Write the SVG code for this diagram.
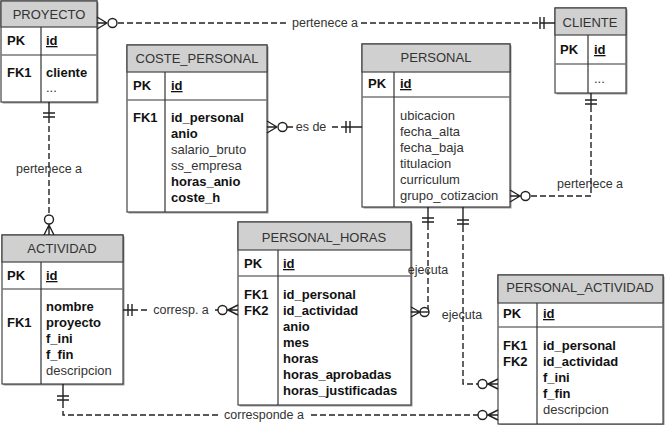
<svg xmlns="http://www.w3.org/2000/svg" width="665" height="425" viewBox="0 0 665 425">
<style>
text{font-family:"Liberation Sans",Arial,sans-serif;font-size:13px;fill:#222}
.h{text-anchor:middle;fill:#333}
.b{font-weight:bold;fill:#111}
.r{fill:#333}
.u{font-weight:bold;text-decoration:underline;fill:#111}
.box{fill:#fff;stroke:#444;stroke-width:1.2}
.sh{fill:#999}
.hd{fill:#d0d0d0;stroke:#444;stroke-width:1.2}
.sep{stroke:#777;stroke-width:1.6}
.div{stroke:#333;stroke-width:1.2}
.c{fill:none;stroke:#222;stroke-width:1.4}
.d{fill:none;stroke:#222;stroke-width:1.4;stroke-dasharray:6 3}
.o{fill:#fff;stroke:#222;stroke-width:1.4}
.lbl{font-size:12.5px;fill:#333;text-anchor:middle}
.bg{fill:#fff}
</style>

<g id="PROYECTO">
  <rect class="sh" x="2.5" y="2.5" width="96" height="101"/>
  <rect class="box" x="1" y="1" width="96" height="101"/>
  <rect class="hd" x="1" y="1" width="96" height="26"/>
  <line class="sep" x1="1" y1="55" x2="97" y2="55"/>
  <line class="div" x1="41" y1="27" x2="41" y2="102"/>
  <text class="h" x="49" y="19">PROYECTO</text>
  <text class="b" x="7" y="45">PK</text>
  <text class="u" x="46" y="45">id</text>
  <text class="b" x="7" y="77">FK1</text>
  <text class="b" x="46" y="77">cliente</text>
  <text class="r" x="46" y="92">...</text>
</g>

<g id="CLIENTE">
  <rect class="sh" x="556.5" y="9.5" width="71" height="85"/>
  <rect class="box" x="555" y="8" width="71" height="85"/>
  <rect class="hd" x="555" y="8" width="71" height="27"/>
  <line class="sep" x1="555" y1="64" x2="626" y2="64"/>
  <line class="div" x1="588" y1="35" x2="588" y2="93"/>
  <text class="h" x="590" y="27">CLIENTE</text>
  <text class="b" x="560" y="54">PK</text>
  <text class="u" x="594" y="54">id</text>
  <text class="r" x="594" y="83">...</text>
</g>

<g id="COSTE_PERSONAL">
  <rect class="sh" x="128.5" y="46.5" width="140" height="167"/>
  <rect class="box" x="127" y="45" width="140" height="167"/>
  <rect class="hd" x="127" y="45" width="140" height="27"/>
  <line class="sep" x1="127" y1="100" x2="267" y2="100"/>
  <line class="div" x1="165" y1="72" x2="165" y2="212"/>
  <text class="h" x="197" y="63">COSTE_PERSONAL</text>
  <text class="b" x="133" y="90">PK</text>
  <text class="u" x="171" y="90">id</text>
  <text class="b" x="133" y="122">FK1</text>
  <text class="b" x="171" y="122">id_personal</text>
  <text class="b" x="171" y="138">anio</text>
  <text class="r" x="171" y="154">salario_bruto</text>
  <text class="r" x="171" y="170">ss_empresa</text>
  <text class="b" x="171" y="186">horas_anio</text>
  <text class="b" x="171" y="202">coste_h</text>
</g>

<g id="PERSONAL">
  <rect class="sh" x="363.5" y="45.5" width="148" height="163"/>
  <rect class="box" x="362" y="44" width="148" height="163"/>
  <rect class="hd" x="362" y="44" width="148" height="28"/>
  <line class="sep" x1="362" y1="97" x2="510" y2="97"/>
  <line class="div" x1="394" y1="72" x2="394" y2="207"/>
  <text class="h" x="436" y="62">PERSONAL</text>
  <text class="b" x="368" y="88">PK</text>
  <text class="u" x="400" y="88">id</text>
  <text class="r" x="400" y="120">ubicacion</text>
  <text class="r" x="400" y="136">fecha_alta</text>
  <text class="r" x="400" y="152">fecha_baja</text>
  <text class="r" x="400" y="168">titulacion</text>
  <text class="r" x="400" y="184">curriculum</text>
  <text class="r" x="400" y="200">grupo_cotizacion</text>
</g>

<g id="ACTIVIDAD">
  <rect class="sh" x="3.5" y="236.5" width="121" height="149"/>
  <rect class="box" x="2" y="235" width="121" height="149"/>
  <rect class="hd" x="2" y="235" width="121" height="27"/>
  <line class="sep" x1="2" y1="289" x2="123" y2="289"/>
  <line class="div" x1="41" y1="262" x2="41" y2="384"/>
  <text class="h" x="62" y="253">ACTIVIDAD</text>
  <text class="b" x="7" y="280">PK</text>
  <text class="u" x="46" y="280">id</text>
  <text class="b" x="7" y="327">FK1</text>
  <text class="b" x="46" y="311">nombre</text>
  <text class="b" x="46" y="327">proyecto</text>
  <text class="b" x="46" y="343">f_ini</text>
  <text class="b" x="46" y="359">f_fin</text>
  <text class="r" x="46" y="375">descripcion</text>
</g>

<g id="PERSONAL_HORAS">
  <rect class="sh" x="239.5" y="223.5" width="173" height="183"/>
  <rect class="box" x="238" y="222" width="173" height="183"/>
  <rect class="hd" x="238" y="222" width="173" height="28"/>
  <line class="sep" x1="238" y1="276" x2="411" y2="276"/>
  <line class="div" x1="278" y1="250" x2="278" y2="405"/>
  <text class="h" x="324" y="242">PERSONAL_HORAS</text>
  <text class="b" x="244" y="268">PK</text>
  <text class="u" x="283" y="268">id</text>
  <text class="b" x="244" y="299">FK1</text>
  <text class="b" x="244" y="315">FK2</text>
  <text class="b" x="283" y="299">id_personal</text>
  <text class="b" x="283" y="315">id_actividad</text>
  <text class="b" x="283" y="331">anio</text>
  <text class="b" x="283" y="347">mes</text>
  <text class="b" x="283" y="363">horas</text>
  <text class="b" x="283" y="379">horas_aprobadas</text>
  <text class="b" x="283" y="395">horas_justificadas</text>
</g>

<g id="PERSONAL_ACTIVIDAD">
  <rect class="sh" x="499.5" y="276.5" width="165" height="149"/>
  <rect class="box" x="498" y="275" width="165" height="149"/>
  <rect class="hd" x="498" y="275" width="165" height="28"/>
  <line class="sep" x1="498" y1="327" x2="663" y2="327"/>
  <line class="div" x1="537" y1="303" x2="537" y2="424"/>
  <text class="h" x="580" y="292">PERSONAL_ACTIVIDAD</text>
  <text class="b" x="503" y="318">PK</text>
  <text class="u" x="543" y="318">id</text>
  <text class="b" x="503" y="350">FK1</text>
  <text class="b" x="503" y="366">FK2</text>
  <text class="b" x="543" y="350">id_personal</text>
  <text class="b" x="543" y="366">id_actividad</text>
  <text class="b" x="543" y="382">f_ini</text>
  <text class="b" x="543" y="398">f_fin</text>
  <text class="r" x="543" y="414">descripcion</text>
</g>

<g id="connectors">
  <g id="c1">
    <path class="d" d="M118,23 H540"/>
    <path class="c" d="M540,23 H555 M540,17 V29 M544,17 V29"/>
    <path class="c" d="M97,17 L107,23 M97,23 H107 M97,29 L107,23"/>
    <circle class="o" cx="112.5" cy="23" r="4.5"/>
    <rect class="bg" x="289" y="14" width="72" height="16"/>
    <text class="lbl" x="325" y="27">pertenece a</text>
  </g>
  <g id="c2">
    <path class="d" d="M287,127 H346"/>
    <path class="c" d="M346,127 H362 M346,121 V133 M350,121 V133"/>
    <path class="c" d="M267,121 L277,127 M267,127 H277 M267,133 L277,127"/>
    <circle class="o" cx="282.5" cy="127" r="4.5"/>
    <rect class="bg" x="293" y="119" width="36" height="16"/>
    <text class="lbl" x="311" y="131">es de</text>
  </g>
  <g id="c3">
    <path class="c" d="M49,102 V117 M43,113 H55 M43,117 H55"/>
    <path class="d" d="M49,117 V214"/>
    <circle class="o" cx="49" cy="219.5" r="4.5"/>
    <path class="c" d="M49,224 V235 M49,225 L44,235 M49,225 L54,235"/>
    <text class="lbl" x="49" y="173">pertenece a</text>
  </g>
  <g id="c4">
    <path class="c" d="M123,310 H132 M128,304 V316 M132,304 V316"/>
    <path class="d" d="M132,310 H218"/>
    <circle class="o" cx="222.5" cy="310" r="4.5"/>
    <path class="c" d="M227,310 H238 M228,310 L238,305 M228,310 L238,315"/>
    <rect class="bg" x="147" y="302" width="68" height="16"/>
    <text class="lbl" x="181" y="314">corresp. a</text>
  </g>
  <g id="c5">
    <path class="c" d="M428,207 V224 M422,218 H434 M422,222 H434"/>
    <path class="d" d="M428,224 V312 H429"/>
    <path class="c" d="M411,307 L420,312 M411,317 L420,312 M411,312 H429"/>
    <circle class="o" cx="424.5" cy="312" r="4.5"/>
    <path class="c" d="M420,312 H429"/>
    <text class="lbl" x="428" y="274">ejecuta</text>
  </g>
  <g id="c6">
    <path class="c" d="M463,207 V226 M457,220 H469 M457,224 H469"/>
    <path class="d" d="M463,226 V384 H478"/>
    <circle class="o" cx="482.5" cy="384" r="4.5"/>
    <path class="c" d="M487,384 H498 M488,384 L498,379 M488,384 L498,389"/>
    <text class="lbl" x="462" y="319">ejecuta</text>
  </g>
  <g id="c7">
    <path class="c" d="M591,93 V106 M585,100 H597 M585,104 H597"/>
    <path class="d" d="M591,106 V196 H530"/>
    <circle class="o" cx="525.5" cy="196" r="4.5"/>
    <path class="c" d="M510,190 L520,196 M510,196 H521 M510,202 L520,196"/>
    <text class="lbl" x="590" y="188">pertenece a</text>
  </g>
  <g id="c8">
    <path class="c" d="M63,384 V402 M57,396 H69 M57,400 H69"/>
    <path class="d" d="M63,402 V415 H478"/>
    <circle class="o" cx="482.5" cy="415" r="4.5"/>
    <path class="c" d="M487,415 H498 M488,415 L498,410 M488,415 L498,420"/>
    <rect class="bg" x="221" y="407" width="87" height="16"/>
    <text class="lbl" x="264" y="419">corresponde a</text>
  </g>
</g>
</svg>
